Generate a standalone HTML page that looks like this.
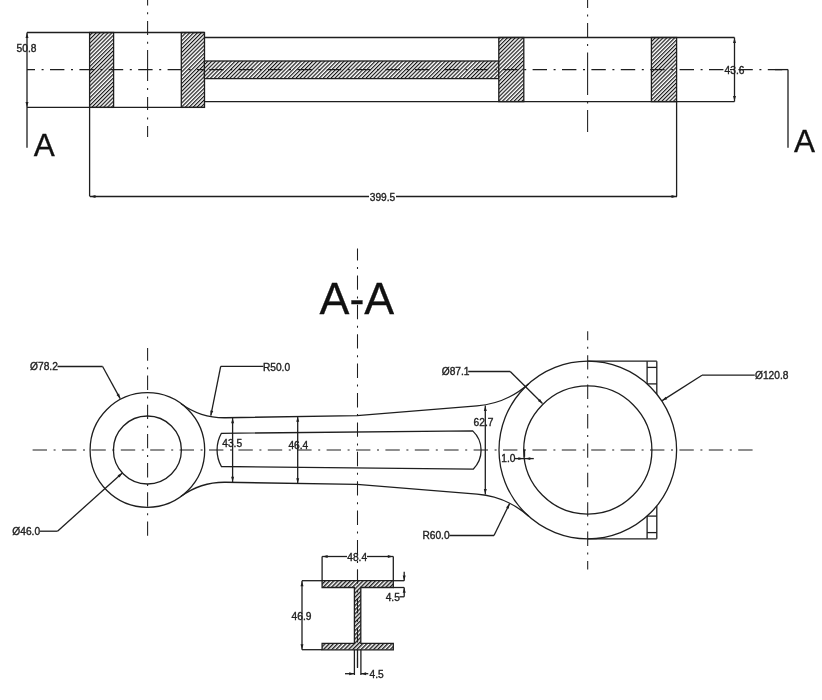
<!DOCTYPE html>
<html><head><meta charset="utf-8"><style>
html,body{margin:0;padding:0;background:#fff;}
svg{display:block;will-change:transform;}
text{font-family:"Liberation Sans",sans-serif;}
</style></head><body>
<svg width="822" height="700" viewBox="0 0 822 700">
<defs><pattern id="h" patternUnits="userSpaceOnUse" width="2.75" height="4" patternTransform="rotate(45)">
<rect width="2.75" height="4" fill="#fff"/><line x1="0.6" y1="0" x2="0.6" y2="4" stroke="#111" stroke-width="1.15"/></pattern>
<pattern id="h2" patternUnits="userSpaceOnUse" width="2.95" height="4" patternTransform="rotate(45)">
<rect width="2.95" height="4" fill="#fff"/><line x1="0.7" y1="0" x2="0.7" y2="4" stroke="#1e1e1e" stroke-width="1.45"/></pattern></defs>
<rect width="822" height="700" fill="#fff"/>
<rect x="89.60" y="32.50" width="24.00" height="74.90" fill="url(#h)" stroke="#1e1e1e" stroke-width="1.3"/>
<rect x="181.30" y="32.50" width="23.20" height="74.90" fill="url(#h)" stroke="#1e1e1e" stroke-width="1.3"/>
<rect x="204.40" y="61.00" width="294.40" height="17.60" fill="url(#h)" stroke="#1e1e1e" stroke-width="1.3"/>
<rect x="498.80" y="37.50" width="25.00" height="64.10" fill="url(#h)" stroke="#1e1e1e" stroke-width="1.3"/>
<rect x="651.40" y="37.50" width="25.20" height="64.10" fill="url(#h)" stroke="#1e1e1e" stroke-width="1.3"/>
<line x1="27.00" y1="32.50" x2="204.40" y2="32.50" stroke="#1e1e1e" stroke-width="1.3" />
<line x1="27.00" y1="107.40" x2="204.40" y2="107.40" stroke="#1e1e1e" stroke-width="1.3" />
<line x1="204.40" y1="37.50" x2="734.50" y2="37.50" stroke="#1e1e1e" stroke-width="1.3" />
<line x1="204.40" y1="101.60" x2="734.50" y2="101.60" stroke="#1e1e1e" stroke-width="1.3" />
<line x1="27.00" y1="32.50" x2="27.00" y2="147.70" stroke="#1e1e1e" stroke-width="1.3" />
<path d="M27.00,33.00 L28.50,38.00 L25.50,38.00 Z" fill="#1e1e1e"/>
<path d="M27.00,106.90 L25.50,101.90 L28.50,101.90 Z" fill="#1e1e1e"/>
<text x="26.50" y="52.20" font-size="10.2" text-anchor="middle" fill="#222" stroke="#222" stroke-width="0.35">50.8</text>
<line x1="734.50" y1="37.50" x2="734.50" y2="101.60" stroke="#1e1e1e" stroke-width="1.3" />
<path d="M734.50,38.00 L736.00,43.00 L733.00,43.00 Z" fill="#1e1e1e"/>
<path d="M734.50,101.10 L733.00,96.10 L736.00,96.10 Z" fill="#1e1e1e"/>
<path d="M27.00,69.60H35.00M41.60,69.60H43.60M50.00,69.60H64.40M71.00,69.60H73.00M79.40,69.60H93.80M100.40,69.60H102.40M108.80,69.60H123.20M129.80,69.60H131.80M138.20,69.60H152.60M159.20,69.60H161.20M167.60,69.60H182.00M188.60,69.60H190.60M197.00,69.60H204.40" stroke="#1e1e1e" stroke-width="1.05" fill="none"/>
<path d="M209.20,69.60H223.60M230.20,69.60H232.20M238.60,69.60H253.00M259.60,69.60H261.60M268.00,69.60H282.40M289.00,69.60H291.00M297.40,69.60H311.80M318.40,69.60H320.40M326.80,69.60H341.20M347.80,69.60H349.80M356.20,69.60H370.60M377.20,69.60H379.20M385.60,69.60H400.00M406.60,69.60H408.60M415.00,69.60H429.40M436.00,69.60H438.00M444.40,69.60H458.80M465.40,69.60H467.40M473.80,69.60H488.20M494.80,69.60H496.80M503.20,69.60H517.60M524.20,69.60H526.20M532.60,69.60H547.00M553.60,69.60H555.60M562.00,69.60H576.40M583.00,69.60H585.00M591.40,69.60H605.80M612.40,69.60H614.40M620.80,69.60H635.20M641.80,69.60H643.80M650.20,69.60H664.60M671.20,69.60H673.20M679.60,69.60H694.00M700.60,69.60H702.60M709.00,69.60H723.40M730.00,69.60H732.00M738.40,69.60H752.80M759.40,69.60H761.40M767.80,69.60H782.20" stroke="#1e1e1e" stroke-width="1.05" fill="none"/>
<line x1="775.00" y1="69.60" x2="788.00" y2="69.60" stroke="#1e1e1e" stroke-width="1.3" />
<line x1="788.00" y1="69.60" x2="788.00" y2="147.70" stroke="#1e1e1e" stroke-width="1.3" />
<text x="734.50" y="74.10" font-size="10.2" text-anchor="middle" fill="#222" stroke="#222" stroke-width="0.35">43.6</text>
<path d="M147.60,0.00V5.50M147.60,21.00V35.00M147.60,50.00V81.00M147.60,97.00V110.00M147.60,126.00V137.00M147.60,12.20V14.20M147.60,41.70V43.70M147.60,88.00V90.00M147.60,117.50V119.50" stroke="#1e1e1e" stroke-width="1.05" fill="none"/>
<path d="M587.60,0.00V8.00M587.60,23.00V37.50M587.60,52.50V95.00M587.60,110.00V132.00M587.60,14.50V16.50M587.60,44.00V46.00M587.60,101.50V103.50" stroke="#1e1e1e" stroke-width="1.05" fill="none"/>
<line x1="89.60" y1="107.40" x2="89.60" y2="196.50" stroke="#1e1e1e" stroke-width="1.3" />
<line x1="676.60" y1="101.60" x2="676.60" y2="196.50" stroke="#1e1e1e" stroke-width="1.3" />
<line x1="90.00" y1="196.50" x2="369.00" y2="196.50" stroke="#1e1e1e" stroke-width="1.3" />
<line x1="396.00" y1="196.50" x2="677.00" y2="196.50" stroke="#1e1e1e" stroke-width="1.3" />
<path d="M90.50,196.50 L95.50,195.00 L95.50,198.00 Z" fill="#1e1e1e"/>
<path d="M676.50,196.50 L671.50,198.00 L671.50,195.00 Z" fill="#1e1e1e"/>
<text x="382.50" y="201.10" font-size="10.2" text-anchor="middle" fill="#222" stroke="#222" stroke-width="0.35">399.5</text>
<text x="33.80" y="155.50" font-size="31.5" text-anchor="start" fill="#111" stroke="#111" stroke-width="0.3">A</text>
<text x="793.90" y="151.60" font-size="31.5" text-anchor="start" fill="#111" stroke="#111" stroke-width="0.3">A</text>
<text x="319.50" y="313.80" font-size="44.8" text-anchor="start" fill="#111" stroke="#111" stroke-width="0.3">A-A</text>
<circle cx="147.40" cy="450.00" r="57.30" fill="none" stroke="#1e1e1e" stroke-width="1.3"/>
<circle cx="147.40" cy="450.00" r="34.00" fill="none" stroke="#1e1e1e" stroke-width="1.3"/>
<circle cx="587.80" cy="450.00" r="64.10" fill="none" stroke="#1e1e1e" stroke-width="1.3"/>
<path d="M181.11,403.67 A73.5,73.5 0 0 0 225.55,417.73 L357.00,415.60 L477.03,405.85 A88.4,88.4 0 0 0 528.70,383.72" fill="none" stroke="#1e1e1e" stroke-width="1.3" />
<path d="M181.11,496.33 A73.5,73.5 0 0 1 225.55,482.27 L357.00,484.40 L477.03,494.15 A88.4,88.4 0 0 1 528.70,516.28" fill="none" stroke="#1e1e1e" stroke-width="1.3" />
<circle cx="587.80" cy="450.00" r="88.80" fill="none" stroke="#1e1e1e" stroke-width="1.3"/>
<path d="M221.4,433.3 L472.7,430.9 A 26.6,26.6 0 0 1 473.2,469.2 L221.4,466.5 A 34,34 0 0 1 221.4,433.3 Z" fill="none" stroke="#1e1e1e" stroke-width="1.3" />
<path d="M32.60,450.00H47.00M53.60,450.00H55.60M62.00,450.00H76.40M83.00,450.00H85.00M91.40,450.00H105.80M112.40,450.00H114.40M120.80,450.00H135.20M141.80,450.00H143.80M150.20,450.00H164.60M171.20,450.00H173.20M179.60,450.00H194.00M200.60,450.00H202.60M209.00,450.00H223.40M230.00,450.00H232.00M238.40,450.00H252.80M259.40,450.00H261.40M267.80,450.00H282.20M288.80,450.00H290.80M297.20,450.00H311.60M318.20,450.00H320.20M326.60,450.00H341.00M347.60,450.00H349.60M356.00,450.00H370.40M377.00,450.00H379.00M385.40,450.00H399.80M406.40,450.00H408.40M414.80,450.00H429.20M435.80,450.00H437.80M444.20,450.00H458.60M465.20,450.00H467.20M473.60,450.00H488.00M494.60,450.00H496.60M503.00,450.00H517.40M524.00,450.00H526.00M532.40,450.00H546.80M553.40,450.00H555.40M561.80,450.00H576.20M582.80,450.00H584.80M591.20,450.00H605.60M612.20,450.00H614.20M620.60,450.00H635.00M641.60,450.00H643.60M650.00,450.00H664.40M671.00,450.00H673.00M679.40,450.00H693.80M700.40,450.00H702.40M708.80,450.00H723.20M729.80,450.00H731.80M738.20,450.00H752.60" stroke="#1e1e1e" stroke-width="1.05" fill="none"/>
<path d="M147.60,347.90V360.70M147.60,367.30V369.30M147.60,375.50V389.90M147.60,396.50V398.50M147.60,404.70V419.10M147.60,425.70V427.70M147.60,433.90V448.30M147.60,454.90V456.90M147.60,463.10V477.50M147.60,484.10V486.10M147.60,492.30V506.70M147.60,513.30V515.30M147.60,521.50V535.70" stroke="#1e1e1e" stroke-width="1.05" fill="none"/>
<path d="M357.50,248.60V260.40M357.50,267.00V269.00M357.50,275.40V289.80M357.50,296.40V298.40M357.50,304.80V319.20M357.50,325.80V327.80M357.50,334.20V348.60M357.50,355.20V357.20M357.50,363.60V378.00M357.50,384.60V386.60M357.50,393.00V407.40M357.50,414.00V416.00M357.50,422.40V436.80M357.50,443.40V445.40M357.50,451.80V466.20M357.50,472.80V474.80M357.50,481.20V495.60M357.50,502.20V504.20M357.50,510.60V525.00M357.50,531.60V533.60M357.50,540.00V554.40M357.50,561.00V563.00M357.50,569.40V583.80M357.50,590.40V592.40M357.50,598.80V613.20M357.50,619.80V621.80M357.50,628.20V642.60M357.50,649.20V651.20M357.50,657.60V668.00" stroke="#1e1e1e" stroke-width="1.05" fill="none"/>
<path d="M587.70,331.30V340.20M587.70,346.80V348.80M587.70,355.20V369.60M587.70,376.20V378.20M587.70,384.60V399.00M587.70,405.60V407.60M587.70,414.00V428.40M587.70,435.00V437.00M587.70,443.40V457.80M587.70,464.40V466.40M587.70,472.80V487.20M587.70,493.80V495.80M587.70,502.20V516.60M587.70,523.20V525.20M587.70,531.60V546.00M587.70,552.60V554.60M587.70,561.00V569.60" stroke="#1e1e1e" stroke-width="1.05" fill="none"/>
<line x1="232.60" y1="417.80" x2="232.60" y2="482.30" stroke="#1e1e1e" stroke-width="1.3" />
<path d="M232.60,418.30 L234.10,423.30 L231.10,423.30 Z" fill="#1e1e1e"/>
<path d="M232.60,481.80 L231.10,476.80 L234.10,476.80 Z" fill="#1e1e1e"/>
<text x="232.20" y="446.50" font-size="10.2" text-anchor="middle" fill="#222" stroke="#222" stroke-width="0.35">43.5</text>
<line x1="297.70" y1="416.30" x2="297.70" y2="483.70" stroke="#1e1e1e" stroke-width="1.3" />
<path d="M297.70,416.80 L299.20,421.80 L296.20,421.80 Z" fill="#1e1e1e"/>
<path d="M297.70,483.20 L296.20,478.20 L299.20,478.20 Z" fill="#1e1e1e"/>
<text x="298.30" y="449.30" font-size="10.2" text-anchor="middle" fill="#222" stroke="#222" stroke-width="0.35">46.4</text>
<line x1="485.30" y1="405.50" x2="485.30" y2="494.50" stroke="#1e1e1e" stroke-width="1.3" />
<path d="M485.30,406.00 L486.80,411.00 L483.80,411.00 Z" fill="#1e1e1e"/>
<path d="M485.30,494.00 L483.80,489.00 L486.80,489.00 Z" fill="#1e1e1e"/>
<text x="483.50" y="425.50" font-size="10.2" text-anchor="middle" fill="#222" stroke="#222" stroke-width="0.35">62.7</text>
<text x="508.40" y="462.40" font-size="10.2" text-anchor="middle" fill="#222" stroke="#222" stroke-width="0.35">1.0</text>
<line x1="514.80" y1="458.60" x2="533.80" y2="458.60" stroke="#1e1e1e" stroke-width="1.3" />
<path d="M523.30,458.60 L518.30,460.00 L518.30,457.20 Z" fill="#1e1e1e"/>
<path d="M525.30,458.60 L530.30,457.20 L530.30,460.00 Z" fill="#1e1e1e"/>
<line x1="524.50" y1="449.50" x2="524.50" y2="456.80" stroke="#1e1e1e" stroke-width="1.3" />
<text x="44.00" y="369.50" font-size="10.2" text-anchor="middle" fill="#222" stroke="#222" stroke-width="0.35">Ø78.2</text>
<line x1="57.50" y1="366.50" x2="102.60" y2="366.50" stroke="#1e1e1e" stroke-width="1.3" />
<line x1="102.60" y1="366.50" x2="120.20" y2="398.60" stroke="#1e1e1e" stroke-width="1.3" />
<path d="M120.20,398.60 L116.48,394.94 L119.11,393.49 Z" fill="#1e1e1e"/>
<text x="26.20" y="534.80" font-size="10.2" text-anchor="middle" fill="#222" stroke="#222" stroke-width="0.35">Ø46.0</text>
<line x1="40.00" y1="531.20" x2="57.50" y2="531.20" stroke="#1e1e1e" stroke-width="1.3" />
<line x1="57.50" y1="531.20" x2="122.30" y2="473.00" stroke="#1e1e1e" stroke-width="1.3" />
<path d="M122.30,473.00 L119.58,477.46 L117.58,475.23 Z" fill="#1e1e1e"/>
<text x="276.50" y="370.80" font-size="10.2" text-anchor="middle" fill="#222" stroke="#222" stroke-width="0.35">R50.0</text>
<line x1="263.40" y1="366.30" x2="220.70" y2="366.30" stroke="#1e1e1e" stroke-width="1.3" />
<line x1="220.70" y1="366.30" x2="210.80" y2="415.70" stroke="#1e1e1e" stroke-width="1.3" />
<path d="M210.80,415.70 L210.31,410.50 L213.25,411.09 Z" fill="#1e1e1e"/>
<text x="455.60" y="374.80" font-size="10.2" text-anchor="middle" fill="#222" stroke="#222" stroke-width="0.35">Ø87.1</text>
<line x1="468.20" y1="371.50" x2="510.20" y2="371.50" stroke="#1e1e1e" stroke-width="1.3" />
<line x1="510.20" y1="371.50" x2="542.50" y2="403.50" stroke="#1e1e1e" stroke-width="1.3" />
<path d="M542.50,403.50 L537.89,401.05 L540.00,398.92 Z" fill="#1e1e1e"/>
<text x="436.00" y="539.30" font-size="10.2" text-anchor="middle" fill="#222" stroke="#222" stroke-width="0.35">R60.0</text>
<line x1="449.40" y1="535.50" x2="494.00" y2="535.50" stroke="#1e1e1e" stroke-width="1.3" />
<line x1="494.00" y1="535.50" x2="509.60" y2="503.60" stroke="#1e1e1e" stroke-width="1.3" />
<path d="M509.60,503.60 L508.75,508.75 L506.06,507.43 Z" fill="#1e1e1e"/>
<text x="771.70" y="379.20" font-size="10.2" text-anchor="middle" fill="#222" stroke="#222" stroke-width="0.35">Ø120.8</text>
<line x1="702.00" y1="375.20" x2="754.80" y2="375.20" stroke="#1e1e1e" stroke-width="1.3" />
<line x1="702.00" y1="375.20" x2="662.20" y2="400.60" stroke="#1e1e1e" stroke-width="1.3" />
<path d="M662.20,400.60 L665.61,396.65 L667.22,399.17 Z" fill="#1e1e1e"/>
<line x1="588.00" y1="361.20" x2="656.80" y2="361.20" stroke="#1e1e1e" stroke-width="1.3" />
<line x1="656.80" y1="361.20" x2="656.80" y2="394.10" stroke="#1e1e1e" stroke-width="1.3" />
<line x1="647.10" y1="361.20" x2="647.10" y2="383.90" stroke="#1e1e1e" stroke-width="1.3" />
<line x1="647.10" y1="367.40" x2="656.80" y2="367.40" stroke="#1e1e1e" stroke-width="1.3" />
<line x1="647.10" y1="383.90" x2="656.80" y2="383.90" stroke="#1e1e1e" stroke-width="1.3" />
<line x1="588.00" y1="538.80" x2="656.80" y2="538.80" stroke="#1e1e1e" stroke-width="1.3" />
<line x1="656.80" y1="538.80" x2="656.80" y2="505.90" stroke="#1e1e1e" stroke-width="1.3" />
<line x1="647.10" y1="538.80" x2="647.10" y2="516.10" stroke="#1e1e1e" stroke-width="1.3" />
<line x1="647.10" y1="532.60" x2="656.80" y2="532.60" stroke="#1e1e1e" stroke-width="1.3" />
<line x1="647.10" y1="516.10" x2="656.80" y2="516.10" stroke="#1e1e1e" stroke-width="1.3" />
<path d="M322.1,580.7 H393.3 V587.5 H360.8 V643.3 H393.3 V649.8 H322.1 V643.3 H354.4 V587.5 H322.1 Z" fill="url(#h2)" stroke="#1e1e1e" stroke-width="1.3"/>
<path d="M357.50,561.00V563.00M357.50,569.40V583.80M357.50,590.40V592.40M357.50,598.80V613.20M357.50,619.80V621.80M357.50,628.20V642.60" stroke="#1e1e1e" stroke-width="1.05" fill="none"/>
<line x1="357.50" y1="649.80" x2="357.50" y2="667.70" stroke="#1e1e1e" stroke-width="1.3" />
<line x1="322.10" y1="556.50" x2="322.10" y2="580.70" stroke="#1e1e1e" stroke-width="1.3" />
<line x1="393.30" y1="556.50" x2="393.30" y2="580.70" stroke="#1e1e1e" stroke-width="1.3" />
<line x1="322.10" y1="556.50" x2="347.00" y2="556.50" stroke="#1e1e1e" stroke-width="1.3" />
<line x1="367.00" y1="556.50" x2="393.30" y2="556.50" stroke="#1e1e1e" stroke-width="1.3" />
<path d="M322.60,556.50 L327.60,555.00 L327.60,558.00 Z" fill="#1e1e1e"/>
<path d="M392.80,556.50 L387.80,558.00 L387.80,555.00 Z" fill="#1e1e1e"/>
<text x="357.20" y="561.10" font-size="10.2" text-anchor="middle" fill="#222" stroke="#222" stroke-width="0.35">48.4</text>
<line x1="302.00" y1="580.70" x2="322.10" y2="580.70" stroke="#1e1e1e" stroke-width="1.3" />
<line x1="302.00" y1="649.70" x2="322.10" y2="649.70" stroke="#1e1e1e" stroke-width="1.3" />
<line x1="302.00" y1="580.70" x2="302.00" y2="649.70" stroke="#1e1e1e" stroke-width="1.3" />
<path d="M302.00,581.20 L303.50,586.20 L300.50,586.20 Z" fill="#1e1e1e"/>
<path d="M302.00,649.20 L300.50,644.20 L303.50,644.20 Z" fill="#1e1e1e"/>
<text x="301.50" y="620.00" font-size="10.2" text-anchor="middle" fill="#222" stroke="#222" stroke-width="0.35">46.9</text>
<line x1="393.30" y1="580.70" x2="404.20" y2="580.70" stroke="#1e1e1e" stroke-width="1.3" />
<line x1="393.30" y1="587.50" x2="404.20" y2="587.50" stroke="#1e1e1e" stroke-width="1.3" />
<line x1="404.20" y1="571.70" x2="404.20" y2="580.70" stroke="#1e1e1e" stroke-width="1.3" />
<path d="M404.20,580.50 L402.70,575.50 L405.70,575.50 Z" fill="#1e1e1e"/>
<line x1="404.20" y1="587.50" x2="404.20" y2="596.80" stroke="#1e1e1e" stroke-width="1.3" />
<path d="M404.20,587.70 L405.70,592.70 L402.70,592.70 Z" fill="#1e1e1e"/>
<line x1="399.40" y1="596.80" x2="404.20" y2="596.80" stroke="#1e1e1e" stroke-width="1.3" />
<text x="392.80" y="600.60" font-size="10.2" text-anchor="middle" fill="#222" stroke="#222" stroke-width="0.35">4.5</text>
<line x1="354.40" y1="649.70" x2="354.40" y2="675.00" stroke="#1e1e1e" stroke-width="1.3" />
<line x1="360.90" y1="649.70" x2="360.90" y2="675.00" stroke="#1e1e1e" stroke-width="1.3" />
<line x1="345.00" y1="673.70" x2="354.40" y2="673.70" stroke="#1e1e1e" stroke-width="1.3" />
<path d="M354.20,673.70 L349.20,675.20 L349.20,672.20 Z" fill="#1e1e1e"/>
<line x1="360.90" y1="673.70" x2="368.30" y2="673.70" stroke="#1e1e1e" stroke-width="1.3" />
<path d="M361.10,673.70 L366.10,672.20 L366.10,675.20 Z" fill="#1e1e1e"/>
<text x="376.70" y="678.10" font-size="10.2" text-anchor="middle" fill="#222" stroke="#222" stroke-width="0.35">4.5</text>
</svg></body></html>
